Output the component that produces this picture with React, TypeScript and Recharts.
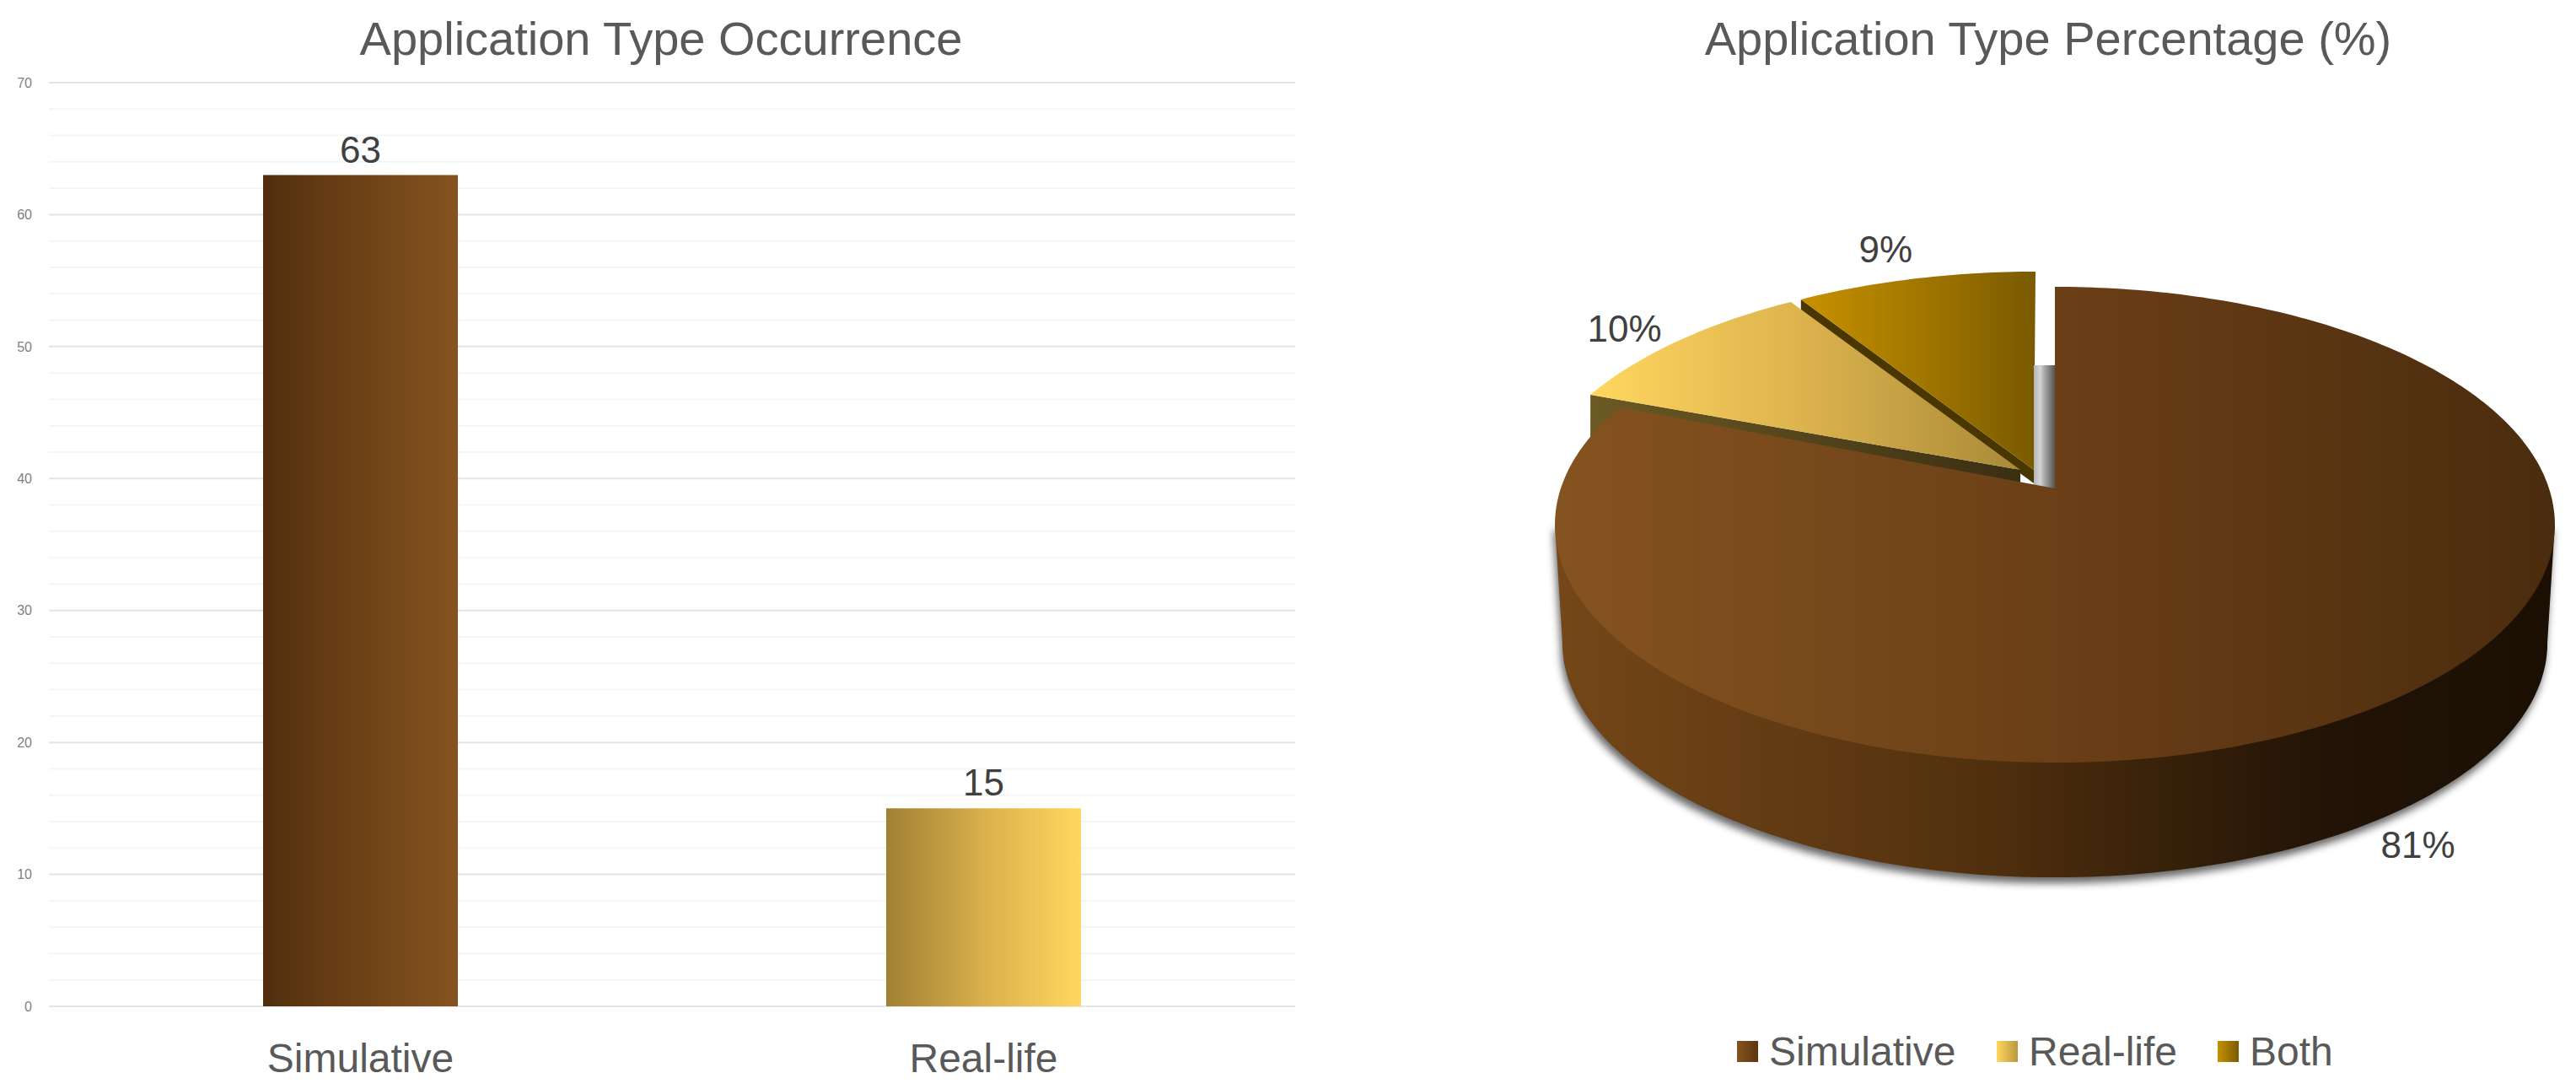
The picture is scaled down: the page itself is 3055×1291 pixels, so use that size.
import React from "react";
import { BarChart, Bar, XAxis, YAxis, CartesianGrid, Cell, LabelList, PieChart, Pie } from "recharts";

const barCategories = ["Simulative", "Real-life"];
const barValues = [63, 15];
const barFills = ["url(#barSim)", "url(#barReal)"];
const yTicks = [0, 10, 20, 30, 40, 50, 60, 70];
const yMinor = [2, 4, 6, 8, 12, 14, 16, 18, 22, 24, 26, 28, 32, 34, 36, 38, 42, 44, 46, 48, 52, 54, 56, 58, 62, 64, 66, 68];

const legendNames = ["Simulative", "Real-life", "Both"];
const legendFills = ["url(#lgSim)", "url(#lgReal)", "url(#lgBoth)"];
// Drawn counter-clockwise from 12 o'clock so that the large slice paints last.
const pieNames = ["Both", "Real-life", "Simulative"];
const pieValues = [9, 10, 81];

const barData = barCategories.map((name, i) => ({ name, value: barValues[i] }));
const pieData = pieNames.map((name, i) => ({ name, value: pieValues[i] }));

const FONT = '"Liberation Sans", Arial, sans-serif';
const PERSP = 0.1525;
const SQUASH = 0.47;
const DEPTH = 141;
const EXPLODE: Record<string, [number, number]> = { Both: [-23, -18], "Real-life": [-35, -15], Simulative: [0, 0] };
const APEX_SHIFT: Record<string, [number, number]> = { Both: [-2, -4], "Real-life": [-6, -7], Simulative: [0, 0] };
const LABEL_NUDGE: Record<string, [number, number]> = { Both: [-18, -7], "Real-life": [-12, 6], Simulative: [-8, -22] };

const project = (cx: number, cy: number, r: number, clockDeg: number, rho = 1) => {
  const t = (clockDeg * Math.PI) / 180;
  const u = rho * Math.sin(t);
  const v = rho * Math.cos(t);
  const w = 1 + PERSP * v;
  return [cx + (r * u) / w, cy - (r * SQUASH * v) / w];
};

const rimPoints = (cx: number, cy: number, r: number, a: number, b: number) => {
  const out: number[][] = [];
  const n = Math.max(2, Math.ceil(Math.abs(b - a)));
  for (let i = 0; i <= n; i++) out.push(project(cx, cy, r, a + ((b - a) * i) / n));
  return out;
};
const toPath = (pts: number[][]) => "M" + pts.map((p) => `${p[0].toFixed(1)},${p[1].toFixed(1)}`).join("L") + "Z";

const Slice3D = (props: any) => {
  const name = props.name ?? props.payload?.name;
  const [ox, oy] = EXPLODE[name] ?? [0, 0];
  const [ax, ay] = APEX_SHIFT[name] ?? [0, 0];
  const cx = props.cx + ox;
  const cy = props.cy + oy;
  const apex = [cx + ax, cy + ay];
  const r = props.outerRadius;
  const from = 90 - props.startAngle;
  const to = 90 - props.endAngle;
  const a = Math.min(from, to);
  const b = Math.max(from, to);
  const clockA = ((a % 360) + 360) % 360;
  const clockB = clockA + (b - a);
  const top = toPath([apex, ...rimPoints(cx, cy, r, clockA, clockB)]);

  if (name === "Simulative") {
    const cosK = (Math.acos(-PERSP) * 180) / Math.PI;
    const right = cosK;
    const left = 360 - cosK;
    const rBottom = r * 0.985;
    const bottom = rimPoints(cx, cy + DEPTH, rBottom, right, left);
    const wall = toPath([project(cx, cy, r, right), ...bottom, project(cx, cy, r, left)]);
    return (
      <g>
        <path d={wall} fill="#4d4d4d" opacity={0.85} filter="url(#pieShadow)" transform="translate(-2,7)" />
        <rect x={cx - 25} y={cy - 146} width={25} height={146} fill="url(#innerStrip)" />
        <path d={wall} fill="url(#pieWall)" />
        <path d={top} fill="url(#pieSim)" />
      </g>
    );
  }
  if (name === "Real-life") {
    const edge = project(cx, cy, r, clockA);
    const wall = toPath([apex, edge, [edge[0], edge[1] + DEPTH], [apex[0], apex[1] + DEPTH]]);
    return (
      <g>
        <path d={wall} fill="url(#realWall)" />
        <path d={top} fill="url(#pieReal)" />
      </g>
    );
  }
  const edge = project(cx, cy, r, clockA);
  const wall = toPath([apex, edge, [edge[0], edge[1] + 16], [apex[0], apex[1] + 16]]);
  return (
    <g>
      <path d={wall} fill="#4a3600" />
      <path d={top} fill="url(#pieBoth)" />
    </g>
  );
};

const sliceLabel = (props: any) => {
  const name = props.name ?? props.payload?.name;
  const [ox, oy] = EXPLODE[name] ?? [0, 0];
  const [nx, ny] = LABEL_NUDGE[name] ?? [0, 0];
  const near = name === "Simulative";
  const p = project(props.cx + ox, props.cy + oy, props.outerRadius, 90 - props.midAngle, 1.14);
  return (
    <text x={p[0] + nx} y={p[1] + ny + (near ? DEPTH : 0)} textAnchor="middle" dominantBaseline="central" fontSize={44} fontFamily={FONT} fill="#404040">
      {props.value}%
    </text>
  );
};

const grad = (id: string, stops: [number, string][]) => (
  <linearGradient id={id} x1="0" y1="0" x2="1" y2="0">
    {stops.map(([o, c]) => (
      <stop key={o} offset={o} stopColor={c} />
    ))}
  </linearGradient>
);

export default function App() {
  return (
    <div style={{ position: "absolute", left: 0, top: 0, width: 3055, height: 1291, background: "#fff" }}>
      <div style={{ position: "absolute", left: 0, top: 0 }}>
        <BarChart width={1560} height={1291} data={barData} margin={{ top: 98, right: 24, bottom: 0, left: 0 }}>
          <defs>
            {grad("barSim", [[0, "#4f2e0d"], [0.35, "#663c15"], [1, "#85531f"]])}
            {grad("barReal", [[0, "#a08033"], [0.5, "#d9b04c"], [1, "#ffd75f"]])}
          </defs>
          <text x={784} y={45} textAnchor="middle" dominantBaseline="central" fontSize={56} fontFamily={FONT} fill="#595959">
            Application Type Occurrence
          </text>
          <CartesianGrid vertical={false} horizontalValues={yMinor} stroke="#f5f5f5" strokeWidth={2} />
          <CartesianGrid vertical={false} horizontalValues={yTicks} stroke="#e4e4e4" strokeWidth={2} />
          <XAxis dataKey="name" axisLine={false} tickLine={false} height={98} tickMargin={38} interval={0}
            tick={{ fontSize: 48, fontFamily: FONT, fill: "#595959" }} />
          <YAxis domain={[0, 70]} ticks={yTicks} width={58} axisLine={false} tickLine={false} tickMargin={14} interval={0}
            tick={{ fontSize: 16, fontFamily: FONT, fill: "#7f7f7f" }} />
          <Bar dataKey="value" barSize={231} isAnimationActive={false}>
            {barData.map((d, i) => (
              <Cell key={d.name} fill={barFills[i]} />
            ))}
            <LabelList dataKey="value" position="top" offset={15} fontSize={44} fontFamily={FONT} fill="#404040" />
          </Bar>
        </BarChart>
      </div>
      <div style={{ position: "absolute", left: 1560, top: 0 }}>
        <PieChart width={1495} height={1291} margin={{ top: 0, right: 0, bottom: 0, left: 0 }}>
          <defs>
            {grad("pieSim", [[0, "#85531f"], [0.5, "#6b3f17"], [1, "#4a2c0e"]])}
            {grad("pieWall", [[0, "#754719"], [0.4, "#54320f"], [0.78, "#211306"], [1, "#1b0f04"]])}
            {grad("pieReal", [[0, "#ffd75f"], [0.5, "#dcb24e"], [1, "#a98a38"]])}
            {grad("pieBoth", [[0, "#c89100"], [0.5, "#a27700"], [1, "#7a5a00"]])}
            {grad("realWall", [[0, "#6b5a25"], [1, "#3b2f12"]])}
            {grad("innerStrip", [[0, "#b5b5b5"], [0.3, "#d4d4d4"], [0.55, "#a0a0a0"], [1, "#555555"]])}
            {grad("lgSim", [[0, "#85531f"], [1, "#5c3610"]])}
            {grad("lgReal", [[0, "#ffd75f"], [1, "#b8963f"]])}
            {grad("lgBoth", [[0, "#c89100"], [1, "#7a5a00"]])}
            <filter id="pieShadow" x="-5%" y="-5%" width="110%" height="115%">
              <feGaussianBlur stdDeviation="5" />
            </filter>
          </defs>
          <text x={869} y={45} textAnchor="middle" dominantBaseline="central" fontSize={56} fontFamily={FONT} fill="#595959">
            Application Type Percentage (%)
          </text>
          <Pie data={pieData} dataKey="value" nameKey="name" cx={877} cy={579} outerRadius={586} innerRadius={0}
            startAngle={90} endAngle={450} stroke="none" isAnimationActive={false} shape={Slice3D} label={sliceLabel} labelLine={false} />
          {legendNames.map((n, i) => {
            const sx = [500, 808, 1070][i];
            return (
              <g key={n}>
                <rect x={sx} y={1234} width={25} height={25} fill={legendFills[i]} />
                <text x={sx + 38} y={1246} dominantBaseline="central" fontSize={48} fontFamily={FONT} fill="#595959">{n}</text>
              </g>
            );
          })}
        </PieChart>
      </div>
    </div>
  );
}
